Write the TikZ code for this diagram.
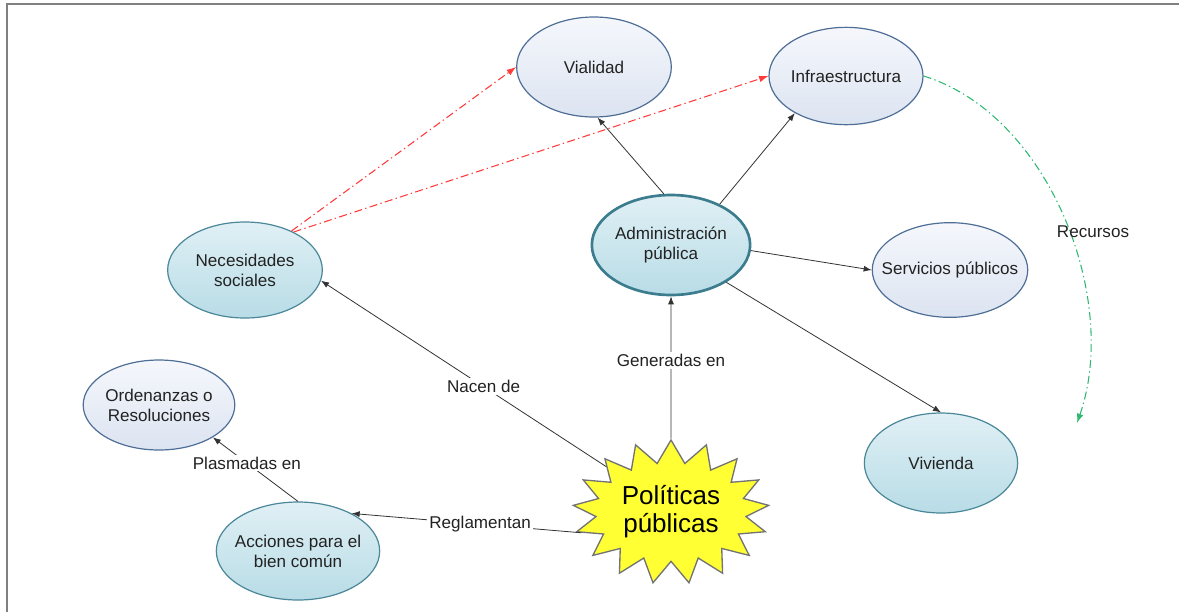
\documentclass[tikz,border=0pt]{standalone}
\usepackage{fontspec}
\setmainfont{Liberation Sans}
\usetikzlibrary{shapes.geometric,shapes.symbols,arrows.meta}
\definecolor{nodeblue}{HTML}{4F6E96}
\definecolor{nodeteal}{HTML}{4A8799}
\definecolor{admteal}{HTML}{3B7D8E}
\definecolor{blueTop}{HTML}{F5F7FC}
\definecolor{blueBot}{HTML}{DCE4F1}
\definecolor{tealTop}{HTML}{E0F0F5}
\definecolor{tealBot}{HTML}{B8DCE6}
\definecolor{redc}{HTML}{FF3B3B}
\definecolor{greenc}{HTML}{2EB872}
\definecolor{starfill}{HTML}{FFFF33}
\definecolor{txt}{HTML}{222222}
\tikzset{
  base/.style={ellipse, inner sep=0pt, align=center, font=\fontsize{12.8}{15}\selectfont, text=txt},
  bluenode/.style={base, draw=nodeblue, line width=0.9pt, top color=blueTop, bottom color=blueBot},
  tealnode/.style={base, draw=nodeteal, line width=0.9pt, top color=tealTop, bottom color=tealBot},
  conn/.style={draw=black!80, line width=0.6pt, -{Latex[length=6pt,width=4.5pt]}},
  lab/.style={fill=white, inner sep=1.5pt, font=\fontsize{12.8}{15}\selectfont, text=txt},
  reddash/.style={draw=redc, line width=0.8pt, dash pattern=on 6pt off 2.5pt on 1pt off 2.5pt, -{Latex[length=7pt,width=5pt]}},
  greendash/.style={draw=greenc, line width=0.8pt, dash pattern=on 6pt off 2.5pt on 1pt off 2.5pt, -{Latex[length=7pt,width=5pt]}},
}
\begin{document}
\begin{tikzpicture}[x=0.75pt,y=-0.75pt]
\useasboundingbox (0,0) rectangle (1179,612);
\draw[draw=gray, line width=1.5pt] (7,612) -- (7,4) -- (1179,4);

\node[bluenode, minimum width=116pt, minimum height=75pt] (vial) at (594,67) {Vialidad};
\node[bluenode, inner xsep=-4pt, minimum width=115.5pt, minimum height=73pt] (infra) at (846,76) {Infraestructura};
\node[tealnode, draw=admteal, line width=2pt, minimum width=118pt, minimum height=75pt] (adm) at (671,245) {Administración\\pública};
\node[tealnode, minimum width=116pt, minimum height=72pt] (nec) at (245,270) {Necesidades\\sociales};
\node[bluenode, inner xsep=-10pt, minimum width=115.5pt, minimum height=71pt] (serv) at (950,270) {Servicios públicos};
\node[tealnode, minimum width=115pt, minimum height=75pt] (viv) at (941,463) {Vivienda};
\node[bluenode, minimum width=111pt, minimum height=67.5pt] (ord) at (159,405) {Ordenanzas o\\Resoluciones};
\node[tealnode, inner xsep=-4pt, minimum width=115pt, minimum height=73.5pt] (acc) at (298,551) {Acciones para el\\bien común};
\node[starburst, starburst points=17, starburst point height=17pt, random starburst=0,
      draw=black!55, line width=1pt, fill=starfill, minimum width=147pt, minimum height=108pt,
      inner sep=0pt, align=center, font=\fontsize{19.5}{21}\selectfont, text=black] (pp) at (671,512) {Políticas\\públicas};

% red dash-dot arrows
\draw[reddash] (nec.40) -- (vial.west);
\draw[reddash] (nec.38) -- (infra.west);

% green curved arrow
\coordinate (gend) at (1077,423);
\draw[greendash] (infra.east) .. controls (1050,115) and (1120,300) .. (gend);
\node[lab, fill=none] (rec) at (1093,232) {Recursos};

% black connectors
\draw[conn] (adm.98) -- (vial.274);
\draw[conn] (adm.40) -- (infra.216);
\draw[conn] (adm.-4) -- (serv.west);
\draw[conn] (adm.-34) -- (viv.north);
\draw[conn] (pp) -- node[lab, pos=0.55] {Generadas en} (adm.south);
\draw[conn] (pp.145) -- node[lab, pos=0.43] {Nacen de} (nec.-8);
\draw[conn] (pp.193) -- node[lab, pos=0.44] {Reglamentan} (acc.35);
\draw[conn] (acc.north) -- node[lab, pos=0.6] {Plasmadas en} (ord.-31);
\end{tikzpicture}
\end{document}
